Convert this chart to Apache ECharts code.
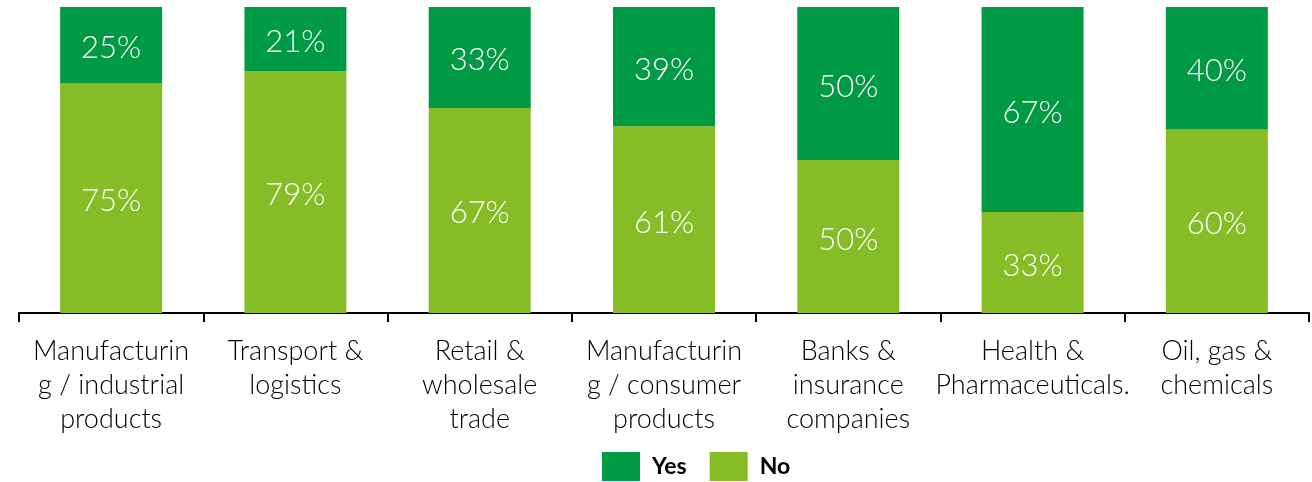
<!DOCTYPE html>
<html>
<head>
<meta charset="utf-8">
<script src="https://cdn.jsdelivr.net/npm/echarts@6/dist/echarts.min.js"></script>
<style>
  html, body { margin: 0; padding: 0; background: #fff; }
  #chart { width: 1312px; height: 482px; }
</style>
</head>
<body>
<div id="chart"></div>
<script>
// Sectors along the x axis (line breaks as printed under each bar)
const categories = [
  'Manufacturin\ng / industrial\nproducts',
  'Transport &\nlogistics',
  'Retail &\nwholesale\ntrade',
  'Manufacturin\ng / consumer\nproducts',
  'Banks &\ninsurance\ncompanies',
  'Health &\nPharmaceuticals.',
  'Oil, gas &\nchemicals'
];
// Share of answers per sector, in percent
const noValues  = [75, 79, 67, 61, 50, 33, 60];
const yesValues = [25, 21, 33, 39, 50, 67, 40];

const FONT = 'Lato, "Open Sans", sans-serif';
const labelStyle = {
  show: true,
  position: 'inside',
  offset: [0, 3],
  color: '#ffffff',
  fontFamily: FONT,
  fontWeight: 300,
  fontSize: 31,
  formatter: p => p.value + '%'
};

const chart = echarts.init(document.getElementById('chart'), null, { renderer: 'canvas' });
chart.setOption({
  animation: false,
  grid: { left: 19, right: 3, top: 7, bottom: 169, containLabel: false },
  legend: {
    top: 452,
    left: 602,
    itemWidth: 38,
    itemHeight: 29,
    itemGap: 23,
    padding: 0,
    icon: 'rect',
    data: ['Yes', 'No'],
    textStyle: { fontFamily: FONT, fontWeight: 'bold', fontSize: 23, color: '#000', padding: [0, 0, 0, 7] }
  },
  xAxis: {
    type: 'category',
    data: categories,
    axisLine: { show: true, lineStyle: { color: '#000', width: 2 } },
    axisTick: { show: true, length: 9, lineStyle: { color: '#000', width: 2 } },
    axisLabel: {
      interval: 0,
      margin: 21,
      color: '#000',
      fontFamily: FONT,
      fontWeight: 300,
      fontSize: 27,
      lineHeight: 34
    }
  },
  yAxis: {
    type: 'value',
    min: 0,
    max: 100,
    show: false,
    splitLine: { show: false }
  },
  series: [
    {
      name: 'No',
      type: 'bar',
      stack: 'total',
      barWidth: 102,
      data: noValues,
      itemStyle: { color: '#86BC25' },
      label: labelStyle
    },
    {
      name: 'Yes',
      type: 'bar',
      stack: 'total',
      barWidth: 102,
      data: yesValues,
      itemStyle: { color: '#009A44' },
      label: labelStyle
    }
  ]
});
</script>
</body>
</html>
